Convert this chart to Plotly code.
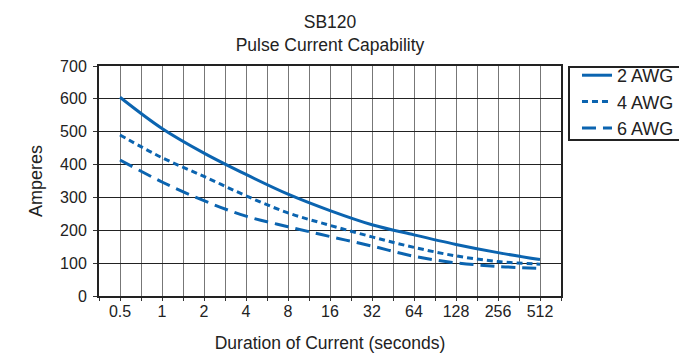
import math
import plotly.graph_objects as go

durations = [0.5, 1, 2, 4, 8, 16, 32, 64, 128, 256, 512]
tick_labels = ["0.5", "1", "2", "4", "8", "16", "32", "64", "128", "256", "512"]
awg2 = [605, 510, 435, 370, 310, 260, 217, 186, 157, 132, 111]
awg4 = [490, 421, 364, 305, 253, 215, 180, 148, 122, 105, 97]
awg6 = [414, 347, 290, 243, 211, 181, 152, 121, 101, 90, 84]
y_ticks = [0, 100, 200, 300, 400, 500, 600, 700]

BLUE = "#0b64b0"
FONT = "Liberation Sans, Arial, sans-serif"
TXT = "#222"

# grid/tick positions: every half doubling from 2^-1.5 to 2^9.5
grid_vals = [2 ** (k / 2) for k in range(-3, 20)]
grid_text = []
for v in grid_vals:
    lbl = ""
    for d, t in zip(durations, tick_labels):
        if abs(v - d) < 1e-9:
            lbl = t
    grid_text.append(lbl)

fig = go.Figure()
fig.add_trace(go.Scatter(x=durations, y=awg2, mode="lines", name="2 AWG",
                         line=dict(color=BLUE, width=3, shape="spline")))
fig.add_trace(go.Scatter(x=durations, y=awg4, mode="lines", name="4 AWG",
                         line=dict(color=BLUE, width=3, shape="spline", dash="6px,4px")))
fig.add_trace(go.Scatter(x=durations, y=awg6, mode="lines", name="6 AWG",
                         line=dict(color=BLUE, width=3, shape="spline", dash="14px,7px")))

fig.update_layout(
    width=679, height=354,
    margin=dict(l=91, r=126, t=58, b=66, autoexpand=False),
    paper_bgcolor="white", plot_bgcolor="white",
    font=dict(family=FONT, size=16, color=TXT),
    title=dict(text="SB120<br>Pulse Current Capability", x=0.4742,
               xanchor="center", y=0.9435, yanchor="middle",
               font=dict(family=FONT, size=17.5, color=TXT)),
    showlegend=True,
    legend=dict(x=1.0346, y=1.0391, xanchor="left", yanchor="top",
                borderwidth=0, bgcolor="rgba(0,0,0,0)",
                font=dict(family=FONT, size=18, color=TXT),
                tracegroupgap=0, itemwidth=30),
    shapes=[dict(type="rect", xref="paper", yref="paper",
                 x0=1.0173, x1=1.2706, y0=0.6783, y1=0.9957,
                 line=dict(color=TXT, width=2), fillcolor="rgba(0,0,0,0)")],
    xaxis=dict(type="log",
               range=[math.log10(2 ** -1.5), math.log10(2 ** 9.5)],
               tickmode="array", tickvals=grid_vals, ticktext=grid_text,
               showgrid=True, gridcolor="#777", gridwidth=1.2,
               ticks="outside", ticklen=3, tickcolor="#333",
               ticklabelstandoff=-3,
               showline=True, linecolor=TXT, linewidth=2, mirror=True,
               zeroline=False,
               title=dict(text="Duration of Current (seconds)", standoff=18,
                          font=dict(family=FONT, size=17.5, color=TXT)),
               tickfont=dict(family=FONT, size=16, color=TXT)),
    yaxis=dict(range=[0, 700], tickmode="array", tickvals=y_ticks,
               showgrid=True, gridcolor=TXT, gridwidth=1,
               ticks="outside", ticklen=4, tickcolor="#333",
               ticklabelstandoff=3,
               showline=True, linecolor=TXT, linewidth=2, mirror=True,
               zeroline=False,
               title=dict(text="Amperes", standoff=13,
                          font=dict(family=FONT, size=18, color=TXT)),
               tickfont=dict(family=FONT, size=16, color=TXT)),
)

fig.write_html("out.html")
